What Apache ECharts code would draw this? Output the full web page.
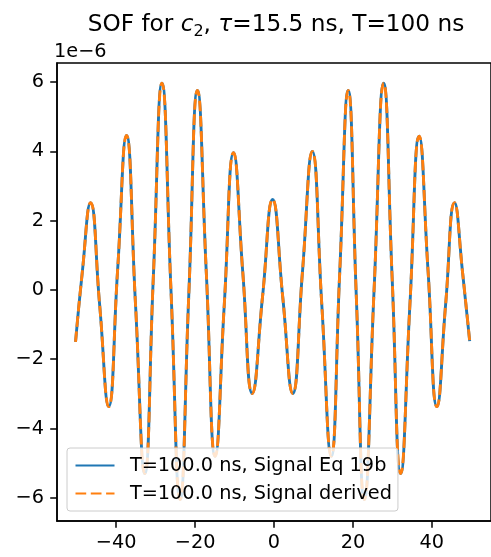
<!DOCTYPE html>
<html>
<head>
<meta charset="utf-8">
<title>SOF for c2</title>
<script src="https://cdn.jsdelivr.net/npm/echarts@6/dist/echarts.min.js"></script>
<style>
  html, body { margin: 0; padding: 0; background: #fff; }
  #main { width: 491px; height: 557px; }
</style>
</head>
<body>
<div id="main"></div>
<script>
// time axis (ns) and signal (units of 1e-6)
const timeNs = [-50.3, -48.6, -46.5, -44.2, -41.9, -39.65, -37.4, -35.1, -32.75, -30.6,
  -28.4, -26.1, -23.8, -21.6, -19.4, -17.15, -14.9, -12.6, -10.25, -7.9,
  -5.5, -2.9, -0.35, 2.2, 4.75, 7.2, 9.7, 12.1, 14.5, 16.65,
  18.8, 20.85, 22.9, 25.35, 27.8, 29.95, 32.1, 34.45, 36.8, 39.05,
  41.3, 43.5, 45.75, 47.8, 49.6];
const signalEq19b = [-1.50, 0.50, 2.52, -0.42, -3.37, 0.55, 4.46, -0.42, -5.30, 0.33,
  5.97, -0.04, -6.05, -0.15, 5.76, 0.48, -4.80, -0.42, 3.96, 0.49,
  -2.99, -0.19, 2.61, -0.19, -2.99, 0.50, 4.00, -0.40, -4.80, 0.48,
  5.76, -0.15, -6.05, -0.04, 5.97, 0.33, -5.30, -0.42, 4.44, 0.54,
  -3.37, -0.42, 2.52, 0.50, -1.48];
// the derived signal lies exactly on top of Eq 19b in the plot
const signalDerived = signalEq19b.slice();

const xTicks = [-40, -20, 0, 20, 40];
const yTicks = [-6, -4, -2, 0, 2, 4, 6];
const seriesNames = ['T=100.0 ns, Signal Eq 19b', 'T=100.0 ns, Signal derived'];

const font = 'DejaVu Sans';
const fs = 19.3;     // 10pt at the figure's dpi
const minus = v => String(v).replace('-', '\u2212');
const pairs = ys => timeNs.map((t, i) => [t, ys[i]]);

const chart = echarts.init(document.getElementById('main'), null, { renderer: 'canvas' });

const option = {
  animation: false,
  backgroundColor: '#fff',
  title: {
    text: '{n|SOF for }{i|c}{s|2}{n|, }{i|\u03c4}{n|=15.5 ns, T=100 ns}',
    left: 276,
    top: 10,
    textAlign: 'center',
    padding: 0,
    textStyle: {
      fontWeight: 'normal',
      rich: {
        n: { fontFamily: font, fontSize: 23.2, fontWeight: 'normal', color: '#000' },
        i: { fontFamily: font, fontSize: 23.2, fontWeight: 'normal', fontStyle: 'italic', color: '#000' },
        s: { fontFamily: font, fontSize: 16, fontWeight: 'normal', color: '#000', padding: [14, 0, 0, 0] }
      }
    }
  },
  legend: {
    orient: 'vertical',
    left: 67,
    top: 448,
    padding: [8, 6, 8, 7.5],
    itemGap: 9,
    itemWidth: 39,
    itemHeight: 14,
    itemStyle: { opacity: 0 },
    backgroundColor: 'rgba(255,255,255,0.8)',
    borderColor: '#cccccc',
    borderWidth: 1,
    borderRadius: 3,
    textStyle: { fontFamily: font, fontSize: fs, color: '#000', padding: [0, 0, 0, 10.4] },
    data: seriesNames
  },
  grid: {
    left: 57,
    top: 63,
    width: 440,
    height: 458,
    show: true,
    borderColor: '#000',
    borderWidth: 1.5
  },
  xAxis: {
    type: 'value',
    min: -55,
    max: 55,
    axisLine: { show: true, onZero: false, lineStyle: { color: '#000', width: 1.5 } },
    axisTick: { show: true, customValues: xTicks, length: 6.8, lineStyle: { color: '#000', width: 1.5 } },
    axisLabel: { customValues: xTicks, margin: 12, fontFamily: font, fontSize: fs, color: '#000', formatter: minus },
    splitLine: { show: false }
  },
  yAxis: {
    type: 'value',
    min: -6.67,
    max: 6.55,
    name: '1e\u22126',
    nameLocation: 'end',
    nameGap: 2,
    nameTextStyle: { fontFamily: font, fontSize: fs, color: '#000', align: 'left', verticalAlign: 'bottom', padding: [0, 0, 0, -3] },
    axisLine: { show: true, onZero: false, lineStyle: { color: '#000', width: 1.5 } },
    axisTick: { show: true, customValues: yTicks, length: 6.8, lineStyle: { color: '#000', width: 1.5 } },
    axisLabel: { customValues: yTicks, margin: 13, fontFamily: font, fontSize: fs, color: '#000', formatter: minus },
    splitLine: { show: false }
  },
  series: [
    {
      name: seriesNames[0],
      type: 'line',
      data: pairs(signalEq19b),
      smooth: 0.5,
      symbol: 'none',
      lineStyle: { color: '#1f77b4', width: 2.9 },
      itemStyle: { color: '#1f77b4' },
      z: 2
    },
    {
      name: seriesNames[1],
      type: 'line',
      data: pairs(signalDerived),
      smooth: 0.5,
      symbol: 'none',
      lineStyle: { color: '#ff7f0e', width: 2.9, type: [10.7, 4.6] },
      itemStyle: { color: '#ff7f0e' },
      z: 3
    }
  ]
};

chart.setOption(option);
</script>
</body>
</html>
